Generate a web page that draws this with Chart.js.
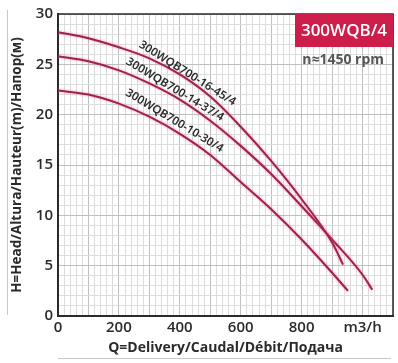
<!DOCTYPE html>
<html>
<head>
<meta charset="utf-8">
<script src="https://cdn.jsdelivr.net/npm/chart.js@4.4.1/dist/chart.umd.min.js"></script>
<style>
html, body { margin: 0; padding: 0; background: #fff; }
</style>
</head>
<body>
<canvas id="pumpChart" width="398" height="363"></canvas>
<script>
// curve data (Q in m3/h, H in m)
const flow16 = [0, 100, 200, 300, 400, 500, 600, 700, 800, 900, 936];
const head16 = [28.2, 27.6, 26.7, 25.6, 24.0, 21.8, 18.8, 15.4, 11.6, 7.3, 5.1];
const flow14 = [0, 100, 200, 300, 400, 500, 600, 700, 800, 900, 1000, 1032];
const head14 = [25.8, 25.3, 24.4, 23.1, 21.5, 19.4, 16.9, 14.1, 10.9, 7.6, 4.1, 2.6];
const flow10 = [0, 100, 200, 300, 400, 500, 600, 700, 800, 900, 952];
const head10 = [22.4, 22.0, 21.1, 19.8, 18.1, 16.0, 13.3, 10.6, 7.6, 4.3, 2.5];

const curveNames = ['300WQB700-16-45/4', '300WQB700-14-37/4', '300WQB700-10-30/4'];
const xTickValues = [0, 200, 400, 600, 800];
const xUnitLabel = 'm3/h';
const yTickValues = [0, 5, 10, 15, 20, 25, 30];
const modelName = '300WQB/4';
const speedText = 'n\u22481450 rpm';

const lineColor = '#a0214c';
const tickFont = { family: "'Open Sans'", size: 15, weight: '600' };

function toPoints(xs, ys) {
    return xs.map((q, i) => ({ x: q, y: ys[i] }));
}

function makeSet(label, xs, ys) {
    return {
        label: label,
        data: toPoints(xs, ys),
        borderColor: lineColor,
        borderWidth: 2,
        pointRadius: 0,
        fill: false,
        cubicInterpolationMode: 'monotone'
    };
}

const decorations = {
    id: 'decorations',
    beforeDatasetsDraw(chart) {
        const ctx = chart.ctx;
        ctx.save();
        ctx.shadowColor = 'rgba(235, 90, 130, 0.6)';
        ctx.shadowBlur = 3;
    },
    afterDatasetsDraw(chart) {
        const ctx = chart.ctx;
        ctx.restore();
        const a = chart.chartArea;
        const xs = chart.scales.x, ys = chart.scales.y;

        ctx.save();
        // frame top / right
        ctx.strokeStyle = '#2a2a2a';
        ctx.lineWidth = 1.5;
        ctx.beginPath();
        ctx.moveTo(a.left, a.top);
        ctx.lineTo(a.right, a.top);
        ctx.lineTo(a.right, a.bottom);
        ctx.stroke();

        // faint guide lines
        ctx.strokeStyle = '#c8c8c8';
        ctx.lineWidth = 1;
        ctx.beginPath();
        ctx.moveTo(7.5, 10);
        ctx.lineTo(7.5, 315);
        ctx.moveTo(a.left, 358.5);
        ctx.lineTo(a.right - 2, 358.5);
        ctx.stroke();

        // model box
        ctx.fillStyle = '#cc1d4b';
        ctx.fillRect(a.right - 98, a.top, 98, 33);
        ctx.fillStyle = '#fff';
        ctx.font = "600 17px 'Open Sans'";
        ctx.textAlign = 'center';
        ctx.textBaseline = 'middle';
        ctx.fillText(modelName, a.right - 49, a.top + 17);

        ctx.fillStyle = '#555';
        ctx.font = "bold 14px 'Open Sans'";
        ctx.textAlign = 'right';
        ctx.fillText(speedText, a.right - 9, a.top + 46);

        // curve names along the curves
        const spots = [[425, 24.1, 32], [384, 22.5, 31], [382, 19.4, 31]];
        ctx.fillStyle = '#2a2a2a';
        ctx.font = "600 11.5px 'Noto Sans'";
        ctx.textAlign = 'center';
        ctx.textBaseline = 'middle';
        curveNames.forEach((name, i) => {
            const px = xs.getPixelForValue(spots[i][0]);
            const py = ys.getPixelForValue(spots[i][1]);
            ctx.save();
            ctx.translate(px, py);
            ctx.rotate(spots[i][2] * Math.PI / 180);
            ctx.fillText(name, 0, 0);
            ctx.restore();
        });
        ctx.restore();
    }
};

const ctx = document.getElementById('pumpChart').getContext('2d');
const pumpChart = new Chart(ctx, {
    type: 'line',
    plugins: [decorations],
    data: {
        datasets: [
            makeSet(curveNames[0], flow16, head16),
            makeSet(curveNames[1], flow14, head14),
            makeSet(curveNames[2], flow10, head10)
        ]
    },
    options: {
        responsive: false,
        animation: false,
        devicePixelRatio: 1,
        layout: { padding: { left: 0, top: 6, right: 5, bottom: 0 } },
        plugins: {
            legend: { display: false },
            tooltip: { enabled: false }
        },
        scales: {
            x: {
                type: 'linear',
                min: 0,
                max: 1100,
                afterFit: (s) => { s.height = 47; },
                afterBuildTicks: (s) => {
                    s.ticks = [];
                    for (let v = 0; v <= 1100; v += 20) s.ticks.push({ value: v });
                },
                border: { color: '#2a2a2a', width: 2 },
                grid: {
                    drawTicks: false,
                    color: (c) => (c.tick && c.tick.value % 100 === 0) ? '#bfbfbf' : '#dcdcdc',
                    lineWidth: 1
                },
                ticks: {
                    autoSkip: false,
                    maxRotation: 0,
                    padding: 3,
                    color: '#2a2a2a',
                    font: tickFont,
                    callback: (v) => {
                        if (v === 1000) return xUnitLabel;
                        return xTickValues.includes(v) ? String(v) : '';
                    }
                },
                title: {
                    display: true,
                    text: 'Q=Delivery/Caudal/D\u00e9bit/\u041f\u043e\u0434\u0430\u0447\u0430',
                    color: '#2a2a2a',
                    font: { family: "'Open Sans'", size: 14, weight: 'bold' },
                    padding: { top: 0, bottom: 7 }
                }
            },
            y: {
                type: 'linear',
                min: 0,
                max: 30,
                afterFit: (s) => { s.width = 58; },
                afterBuildTicks: (s) => {
                    s.ticks = [];
                    for (let v = 0; v <= 30; v += 1) s.ticks.push({ value: v });
                },
                border: { color: '#2a2a2a', width: 2 },
                grid: {
                    drawTicks: false,
                    color: (c) => (c.tick && c.tick.value % 5 === 0) ? '#bfbfbf' : '#dcdcdc',
                    lineWidth: 1
                },
                ticks: {
                    autoSkip: false,
                    padding: 5,
                    color: '#2a2a2a',
                    font: tickFont,
                    callback: (v) => yTickValues.includes(v) ? String(v) : ''
                },
                title: {
                    display: true,
                    text: 'H=Head/Altura/Hauteur(m)/\u041d\u0430\u043f\u043e\u0440(\u043c)',
                    color: '#2a2a2a',
                    font: { family: "'Open Sans'", size: 13.5, weight: 'bold' },
                    padding: { top: 9, bottom: 0 }
                }
            }
        }
    }
});
</script>
</body>
</html>
